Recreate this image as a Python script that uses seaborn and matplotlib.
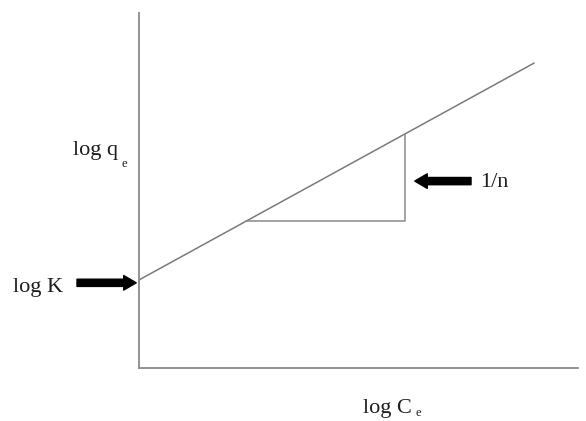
import matplotlib
matplotlib.use("Agg")
import matplotlib.pyplot as plt
import seaborn as sns
import pandas as pd

# --- data (schematic Freundlich isotherm, arbitrary units) ---
log_Ce = [0.0, 9.0]            # line end points along x
log_qe = [2.48, 8.59]          # line end points along y
tri_x = [2.44, 6.06, 6.06]     # slope triangle corners
tri_y = [4.14, 4.14, 6.59]
log_K = 2.48                   # intercept
labels = {"y": "log q", "x": "log C", "k": "log K", "n": "1/n", "sub": "e"}

sns.set_theme(style="white")
plt.rcParams['font.family'] = ['Liberation Serif', 'DejaVu Serif']

W, H = 586, 421
fig = plt.figure(figsize=(W / 100, H / 100), dpi=100)
x0, x1, yb, yt = 139, 578, 368, 13
ax = fig.add_axes([x0 / W, 1 - yb / H, (x1 - x0) / W, (yb - yt) / H])

df = pd.DataFrame({"log_Ce": log_Ce, "log_qe": log_qe})
sns.lineplot(data=df, x="log_Ce", y="log_qe", ax=ax, color="#7a7a7a", lw=1.1)
ax.plot(tri_x, tri_y, color="#8a8a8a", lw=1.1)

ax.set_xlim(0, 10)
ax.set_ylim(0, 10)
ax.set_xticks([]); ax.set_yticks([])
ax.set_xlabel(""); ax.set_ylabel("")
for s in ["top", "right"]:
    ax.spines[s].set_visible(False)
for s in ["left", "bottom"]:
    ax.spines[s].set_color("#8a8a8a")
    ax.spines[s].set_linewidth(1.3)

arrow = dict(arrowstyle="simple,head_length=0.9,head_width=1.05,tail_width=0.52",
             color="black", shrinkA=0, shrinkB=2, mutation_scale=10)
ax.annotate("", xy=(0, log_K - 0.08), xytext=(-62, 0), textcoords="offset pixels",
            arrowprops=arrow, annotation_clip=False)
arrow_n = dict(arrow, shrinkB=7)
mid = (tri_y[1] + tri_y[2]) / 2
ax.annotate("", xy=(tri_x[1], mid - 0.1), xytext=(66, 0), textcoords="offset pixels",
            arrowprops=arrow_n, annotation_clip=False)

tc = "#1e1e1e"
fs = 16
fig.text(73 / W, 1 - 155 / H, labels["y"], fontsize=fs, color=tc, va="baseline")
fig.text(121 / W, 1 - 167 / H, labels["sub"], fontsize=9, color=tc, va="baseline")
fig.text(13 / W, 1 - 292 / H, labels["k"], fontsize=fs, color=tc, va="baseline")
fig.text(480 / W, 1 - 187 / H, labels["n"], fontsize=fs, color=tc, va="baseline")
fig.text(363 / W, 1 - 413 / H, labels["x"], fontsize=fs, color=tc, va="baseline")
fig.text(416 / W, 1 - 416 / H, labels["sub"], fontsize=9, color=tc, va="baseline")

fig.savefig("out.png", dpi=100)
